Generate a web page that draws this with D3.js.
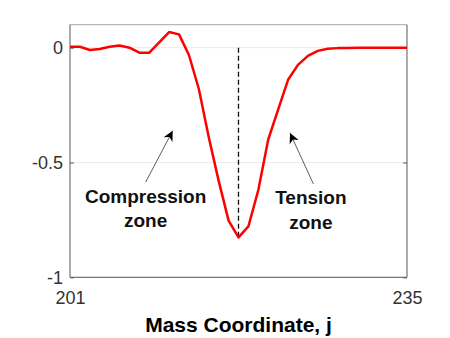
<!DOCTYPE html>
<html>
<head>
<meta charset="utf-8">
<script src="https://cdn.jsdelivr.net/npm/d3@7"></script>
<style>
  body { margin: 0; background: #fff; }
  text { font-family: "Liberation Sans", Arial, sans-serif; }
</style>
</head>
<body>
<div id="chart"></div>
<script>
const width = 450,
    height = 338,
    margin = {top: 24.7, right: 43, bottom: 60.7, left: 70};

// mass coordinate j and displacement values
const massCoord = d3.range(201, 236);
const values = [
    0.004, 0.004, -0.010, -0.006, 0.004, 0.009, 0.000, -0.022, -0.022, 0.023,
    0.068, 0.058, -0.032, -0.180, -0.390, -0.580, -0.753, -0.826, -0.778, -0.620,
    -0.400, -0.270, -0.140, -0.075, -0.036, -0.014, -0.005, -0.002, -0.001, 0,
    0, 0, 0, 0, 0
];
const xTicks = [201, 235];
const yTicks = [0, -0.5, -1];
const peakJ = 218;

// annotations: [label lines, text anchor (j, value), arrow tail, arrow head]
const notes = [
    {lines: ['Compression', 'zone'], at: [208.63, -0.675], tail: [208.64, -0.585], head: [211.36, -0.362]},
    {lines: ['Tension', 'zone'], at: [225.3, -0.682], tail: [225.55, -0.593], head: [223.2, -0.372]}
];

const data = massCoord.map((j, i) => ({j: j, v: values[i]}));

const x = d3.scaleLinear().domain([201, 235]).range([margin.left, width - margin.right]);
const y = d3.scaleLinear().domain([-1, 0.1]).range([height - margin.bottom, margin.top]);

const svg = d3.select('#chart')
    .append('svg')
    .attr('width', width)
    .attr('height', height);

svg.append('defs')
    .append('marker')
    .attr('id', 'head')
    .attr('viewBox', '0 0 10 10')
    .attr('refX', 10)
    .attr('refY', 5)
    .attr('markerWidth', 10)
    .attr('markerHeight', 10)
    .attr('markerUnits', 'userSpaceOnUse')
    .attr('orient', 'auto')
    .append('path')
    .attr('d', 'M0,0 L10,5 L0,10 L3,5 Z')
    .attr('fill', '#000');

// grid lines
svg.append('g')
    .selectAll('line')
    .data(yTicks)
    .enter()
    .append('line')
    .attr('x1', x(201))
    .attr('x2', x(235))
    .attr('y1', d => y(d))
    .attr('y2', d => y(d))
    .attr('stroke', '#ebebeb')
    .attr('stroke-width', 1);

// box
svg.append('line')
    .attr('x1', x(201)).attr('x2', x(235))
    .attr('y1', y(0.1)).attr('y2', y(0.1))
    .attr('stroke', '#a6a6a6');

const yAxis = svg.append('g')
    .attr('transform', `translate(${x(201)},0)`)
    .call(d3.axisLeft(y).tickValues(yTicks).tickSize(-4).tickPadding(7).tickFormat(d => String(d)));

const yAxisR = svg.append('g')
    .attr('transform', `translate(${x(235)},0)`)
    .call(d3.axisRight(y).tickValues(yTicks).tickSize(-4).tickFormat(''));

const xAxis = svg.append('g')
    .attr('transform', `translate(0,${y(-1)})`)
    .call(d3.axisBottom(x).tickValues(xTicks).tickSize(0).tickPadding(14).tickFormat(d => String(d)));

[yAxis, yAxisR, xAxis].forEach(a => {
    a.select('.domain').attr('stroke', '#595959');
    a.selectAll('.tick line').attr('stroke', '#595959');
    a.selectAll('text')
        .attr('font-size', 18)
        .attr('fill', '#333')
        .style('font-family', '"Liberation Sans", Arial, sans-serif');
});
yAxis.selectAll('.domain').attr('d', `M0,${y(0.1)}V${y(-1)}`);
yAxisR.selectAll('.domain').attr('d', `M0,${y(0.1)}V${y(-1)}`);
xAxis.selectAll('.domain').attr('d', `M${x(201)},0H${x(235)}`);

// dashed marker at the peak
svg.append('line')
    .attr('x1', x(peakJ)).attr('x2', x(peakJ))
    .attr('y1', y(0))
    .attr('y2', y(values[massCoord.indexOf(peakJ)]))
    .attr('stroke', '#111')
    .attr('stroke-width', 1.3)
    .attr('stroke-dasharray', '5,3');

// curve
svg.append('path')
    .datum(data)
    .attr('d', d3.line().x(d => x(d.j)).y(d => y(d.v)))
    .attr('fill', 'none')
    .attr('stroke', '#ff0000')
    .attr('stroke-width', 2.5)
    .attr('stroke-linejoin', 'round');

// annotations
const note = svg.append('g')
    .selectAll('g')
    .data(notes)
    .enter()
    .append('g');

note.append('line')
    .attr('x1', d => x(d.tail[0]))
    .attr('y1', d => y(d.tail[1]))
    .attr('x2', d => x(d.head[0]))
    .attr('y2', d => y(d.head[1]))
    .attr('stroke', '#333')
    .attr('stroke-width', 0.8)
    .attr('marker-end', 'url(#head)');

note.append('text')
    .attr('x', d => x(d.at[0]))
    .attr('y', d => y(d.at[1]))
    .attr('text-anchor', 'middle')
    .attr('font-size', 19)
    .attr('font-weight', 'bold')
    .attr('fill', '#111')
    .selectAll('tspan')
    .data(d => d.lines.map(l => ({l: l, x: x(d.at[0])})))
    .enter()
    .append('tspan')
    .attr('x', d => d.x)
    .attr('dy', (d, i) => i ? 24.5 : 0)
    .text(d => d.l);

svg.append('text')
    .text('Mass Coordinate, j')
    .attr('x', x(218))
    .attr('y', 331.5)
    .attr('text-anchor', 'middle')
    .attr('font-size', 21)
    .attr('font-weight', 'bold')
    .attr('fill', '#000');
</script>
</body>
</html>
